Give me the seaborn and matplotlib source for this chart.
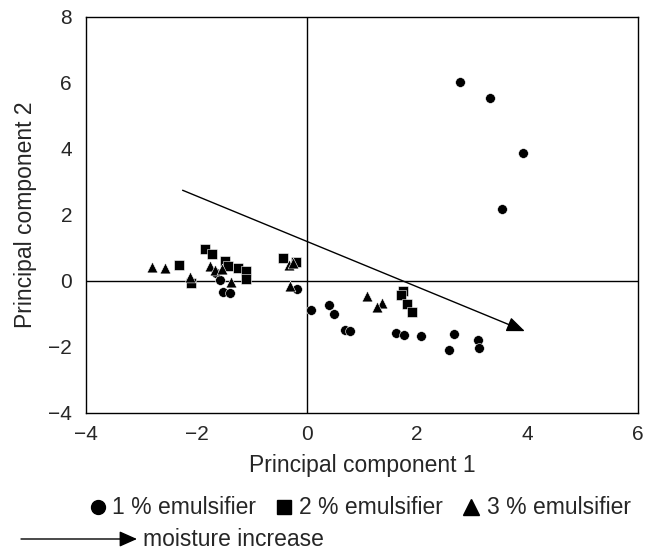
import matplotlib
matplotlib.use("Agg")
import matplotlib.pyplot as plt
import seaborn as sns
import pandas as pd
from matplotlib.lines import Line2D
from matplotlib.patches import FancyArrowPatch

# ---- data ----
groups = ["1 % emulsifier", "2 % emulsifier", "3 % emulsifier"]

pc1_1 = [2.78, 3.32, 3.91, 3.53, -1.64, -1.58, -1.52, -1.40, -0.18, 0.07, 0.40, 0.49,
         0.69, 0.78, 1.61, 1.76, 2.07, 2.66, 2.57, 3.11, 3.12]
pc2_1 = [6.03, 5.54, 3.89, 2.18, 0.24, 0.02, -0.34, -0.36, -0.23, -0.88, -0.74, -1.01,
         -1.47, -1.52, -1.59, -1.64, -1.67, -1.60, -2.08, -1.80, -2.02]

pc1_2 = [-2.32, -2.09, -1.84, -1.72, -1.49, -1.42, -1.25, -1.10, -1.10, -0.43, -0.20,
         1.74, 1.70, 1.81, 1.91]
pc2_2 = [0.50, -0.06, 0.97, 0.82, 0.62, 0.45, 0.38, 0.29, 0.05, 0.71, 0.59,
         -0.31, -0.42, -0.69, -0.94]

pc1_3 = [-2.81, -2.56, -2.11, -1.76, -1.66, -1.53, -1.37, -0.32, -0.25, -0.31, 1.09, 1.37, 1.28]
pc2_3 = [0.42, 0.38, 0.12, 0.44, 0.32, 0.36, -0.04, 0.49, 0.55, -0.14, -0.44, -0.68, -0.80]

arrow_start = (-2.25, 2.75)
arrow_end = (3.95, -1.52)

xticks = [-4, -2, 0, 2, 4, 6]
yticks = [-4, -2, 0, 2, 4, 6, 8]

df = pd.DataFrame({
    "PC1": pc1_1 + pc1_2 + pc1_3,
    "PC2": pc2_1 + pc2_2 + pc2_3,
    "group": [groups[0]] * len(pc1_1) + [groups[1]] * len(pc1_2) + [groups[2]] * len(pc1_3),
})

sns.set_style("white")
plt.rcParams["font.family"] = ["Liberation Sans", "DejaVu Sans"]

fig = plt.figure(figsize=(6.45, 5.52), dpi=100)
W, H = 645, 552
left, right, top, bottom = 86, 638, 17, 413
ax = fig.add_axes([left / W, 1 - bottom / H, (right - left) / W, (bottom - top) / H])

markers = {groups[0]: "o", groups[1]: "s", groups[2]: "^"}
sizes_pts = {groups[0]: 9.5, groups[1]: 9.0, groups[2]: 10.5}
for g in groups:
    sub = df[df["group"] == g]
    sns.scatterplot(data=sub, x="PC1", y="PC2", marker=markers[g], color="black",
                    s=sizes_pts[g] ** 2 * 0.55, edgecolor="white", linewidth=0.4,
                    ax=ax, legend=False, zorder=3)

ax.axhline(0, color="black", lw=1.0, zorder=2)
ax.axvline(0, color="black", lw=1.0, zorder=2)

ax.annotate("", xy=arrow_end, xytext=arrow_start,
            arrowprops=dict(arrowstyle="-|>,head_length=1.1,head_width=0.45",
                            color="black", lw=1.0, shrinkA=0, shrinkB=0), zorder=4)

ax.set_xlim(-4, 6)
ax.set_ylim(-4, 8)
ax.set_xticks(xticks)
ax.set_yticks(yticks)
ax.set_xticklabels(["\u2212" + str(-t) if t < 0 else str(t) for t in xticks],
                   family=["Liberation Sans Narrow", "Liberation Sans", "DejaVu Sans"], fontsize=15)
ax.set_yticklabels(["\u2212" + str(-t) if t < 0 else str(t) for t in yticks], fontsize=15)
ax.tick_params(axis="both", direction="out", length=5, width=1, color="black")
ax.tick_params(axis="x", pad=4)
ax.tick_params(axis="y", pad=5)
for sp in ax.spines.values():
    sp.set_visible(True)
    sp.set_color("black")
    sp.set_linewidth(1.0)

ax.set_xlabel("Principal component 1", fontsize=16.5, labelpad=7)
ax.set_ylabel("Principal component 2", fontsize=16.5, labelpad=8)

# legend row (manual layout)
leg_y = 1 - 507 / H
marker_x = [97.5, 284, 471]
text_x = [112, 299, 487]
leg_ms = {groups[0]: 10.0, groups[1]: 9.5, groups[2]: 11.0}
for g, mx, tx in zip(groups, marker_x, text_x):
    fig.add_artist(Line2D([mx / W], [leg_y], marker=markers[g], color="black",
                          markersize=leg_ms[g], linestyle="none", transform=fig.transFigure))
    fig.text(tx / W, leg_y, g, fontsize=16.5, va="center", ha="left")

arr_y = 1 - 539 / H
fig.add_artist(FancyArrowPatch(
    (21 / W, arr_y), (137 / W, arr_y), transform=fig.transFigure,
    arrowstyle="-|>,head_length=0.9,head_width=0.4", color="black", lw=1.0,
    mutation_scale=12, shrinkA=0, shrinkB=0))
fig.text(143 / W, arr_y, "moisture increase", fontsize=16.5, va="center", ha="left")

fig.savefig("out.png", dpi=100)
